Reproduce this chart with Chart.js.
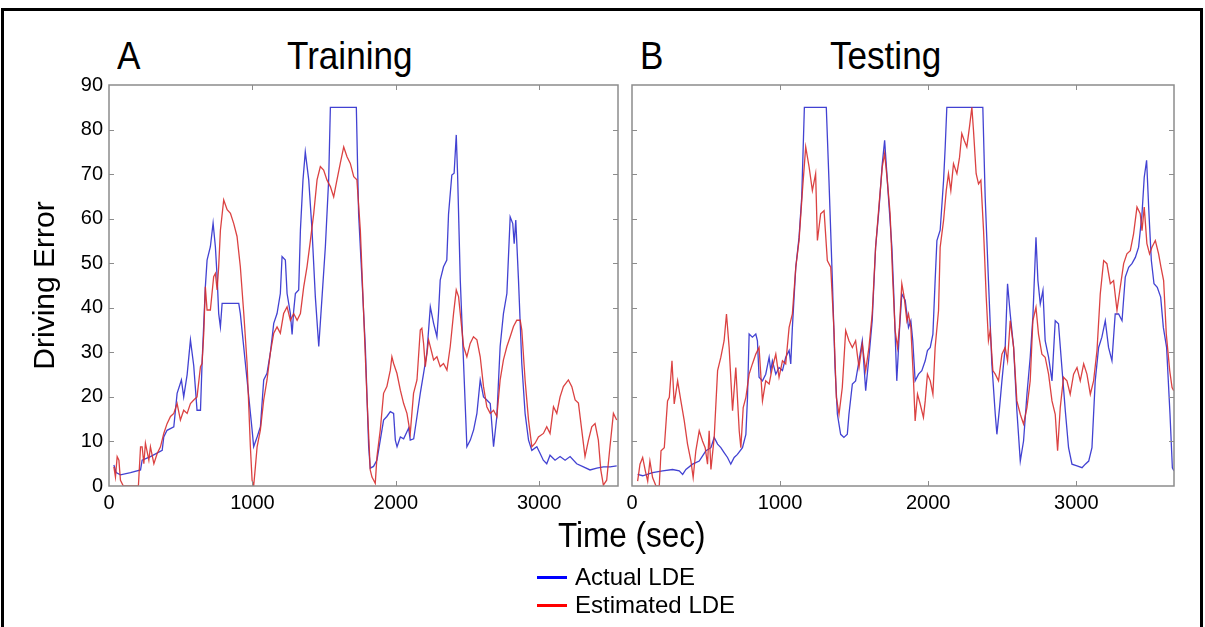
<!DOCTYPE html>
<html lang="en">

<head>
    <meta charset="utf-8">
    <title>Driving Error: Training / Testing</title>

    <!-- Chart.js -->
    <script src="https://cdn.jsdelivr.net/npm/chart.js@4.4.0/dist/chart.umd.min.js"></script>

    <style>
        body {
            margin: 0;
            background-color: #fff;
            font-family: "Liberation Sans", Arial, sans-serif;
        }

        #page {
            position: relative;
            width: 1205px;
            height: 627px;
            overflow: hidden;
            background: #fff;
        }

        #frame {
            position: absolute;
            left: 1px;
            top: 8px;
            width: 1196px;
            height: 700px;
            border: 3px solid #000;
            border-bottom: none;
        }

        .txt {
            position: absolute;
            color: #000;
            white-space: nowrap;
            line-height: 1;
        }

        .big {
            font-size: 39px;
            transform-origin: left top;
            transform: scaleX(0.9);
        }

        .legend-row {
            position: absolute;
            left: 537px;
            font-size: 24px;
            line-height: 1;
            display: flex;
            align-items: center;
        }

        .legend-row span.swatch {
            display: inline-block;
            width: 30px;
            height: 3px;
            margin-right: 8px;
        }
    </style>
</head>

<body>
    <div id="page">
        <div id="frame"></div>

        <div class="txt big" style="left:117px; top:36px;">A</div>
        <div class="txt big" style="left:287px; top:36px;">Training</div>
        <div class="txt big" style="left:640px; top:36px;">B</div>
        <div class="txt big" style="left:830px; top:36px;">Testing</div>

        <canvas id="chartA" width="625" height="520" style="position:absolute; left:0; top:0;"></canvas>
        <canvas id="chartB" width="585" height="520" style="position:absolute; left:620px; top:0;"></canvas>

        <div class="txt" style="left:558px; top:517px; font-size:35px; transform-origin:left top; transform:scaleX(0.9);">Time (sec)</div>

        <div class="legend-row" style="top:565px;"><span class="swatch" style="background:#0000ff;"></span>Actual LDE</div>
        <div class="legend-row" style="top:593px;"><span class="swatch" style="background:#ff0000;"></span>Estimated LDE</div>
    </div>

<script>
    // ---- tick values ----
    var yTicks = [0, 10, 20, 30, 40, 50, 60, 70, 80, 90];
    var xTicks = [0, 1000, 2000, 3000];

    // ---- A: Training ----
    var trainActualT = [34, 50, 80, 150, 220, 231, 289, 371, 382, 405, 452, 475, 505, 521, 545, 568, 591, 614, 638, 649,
        672, 684, 707, 726, 742, 754, 765, 777, 789, 905, 916, 963, 998, 1009, 1033, 1056, 1079, 1102, 1125, 1149,
        1172, 1195, 1207, 1230, 1242, 1265, 1277, 1288, 1300, 1323, 1335, 1353, 1369, 1393, 1416, 1439, 1463, 1486, 1509, 1532,
        1544, 1725, 1741, 1765, 1788, 1811, 1822, 1845, 1869, 1892, 1915, 1938, 1962, 1985, 1997, 2009, 2032, 2055, 2090, 2101,
        2125, 2148, 2171, 2194, 2217, 2241, 2264, 2287, 2298, 2310, 2333, 2356, 2368, 2391, 2407, 2422, 2431, 2450, 2473, 2496,
        2520, 2543, 2566, 2589, 2612, 2635, 2659, 2682, 2705, 2728, 2751, 2775, 2798, 2816, 2826, 2837, 2856, 2879, 2902, 2926,
        2949, 2984, 3007, 3029, 3053, 3076, 3111, 3146, 3181, 3216, 3262, 3309, 3355, 3402, 3448, 3495, 3541];
    var trainActualV = [4.7, 3.0, 2.5, 3.0, 3.6, 5.8, 6.6, 8.0, 11, 12.5, 13.3, 20.8, 23.8, 20, 25, 32.8, 27, 17, 17, 27.5,
        44.7, 50.7, 53.7, 59, 53.7, 47, 38.7, 35.7, 41, 41, 38.7, 23.8, 12.6, 8.8, 11, 13.3, 23.8, 25.3, 29.8, 36.5,
        38.7, 43.2, 51.5, 50.7, 43.2, 38.7, 34, 39.3, 43.2, 44, 57.4, 68.7, 75, 68.7, 57.4, 42.5, 31.3, 42.5, 53.7, 68.7,
        85, 85, 61, 46, 31, 8.8, 4, 4.4, 5.8, 10.3, 14.8, 15.6, 16.7, 16.3, 10.3, 8.8, 11, 10.6, 13, 10.3,
        10.6, 15.6, 20.8, 25.3, 29.8, 40.2, 36.5, 33.5, 38.7, 46.2, 49.2, 50.7, 61, 69.8, 70.2, 78.8, 70.2, 46.2, 27.5, 8.8,
        10.3, 12.6, 16.3, 23.8, 20, 19.3, 18.5, 8.8, 15.6, 31.3, 38.7, 43.2, 60.4, 58.9, 54.4, 59.7, 46.2, 27.5, 16.3, 10.3,
        8, 8.8, 7.3, 5.8, 5, 6.9, 5.8, 6.6, 5.8, 6.6, 5, 4.3, 3.6, 4, 4.3, 4.3, 4.5];

    var trainEstT = [34, 45, 57, 69, 80, 100, 205, 220, 231, 243, 254, 278, 289, 313, 336, 359, 382, 405, 429, 452,
        475, 498, 521, 545, 568, 591, 614, 638, 649, 661, 672, 684, 707, 730, 742, 754, 765, 777, 800, 824,
        847, 870, 893, 916, 940, 963, 986, 998, 1009, 1021, 1033, 1056, 1079, 1102, 1125, 1149, 1172, 1195, 1218, 1242,
        1265, 1288, 1312, 1335, 1358, 1381, 1405, 1428, 1451, 1474, 1497, 1520, 1544, 1567, 1590, 1613, 1637, 1660, 1683, 1707,
        1729, 1753, 1776, 1799, 1822, 1834, 1846, 1857, 1869, 1892, 1915, 1938, 1962, 1973, 1985, 2008, 2032, 2055, 2078, 2101,
        2124, 2148, 2171, 2182, 2194, 2206, 2229, 2241, 2264, 2287, 2310, 2333, 2357, 2380, 2403, 2422, 2438, 2450, 2473, 2496,
        2519, 2542, 2566, 2589, 2612, 2635, 2659, 2682, 2705, 2728, 2751, 2775, 2798, 2821, 2844, 2868, 2879, 2902, 2926, 2949,
        2972, 2995, 3030, 3053, 3076, 3100, 3123, 3146, 3169, 3204, 3228, 3251, 3274, 3297, 3320, 3344, 3367, 3390, 3413, 3430,
        3448, 3471, 3494, 3518, 3541];
    var trainEstV = [4.3, 2, 6.6, 5.8, 1.3, 0, 0, 8.8, 8.8, 5, 9.6, 5.8, 8.8, 5, 7.3, 8.8, 11.8, 14, 15.6, 16.3,
        18.5, 14.8, 17, 16.3, 18.5, 19.3, 20, 26.8, 27.5, 34.3, 44.7, 39.5, 39.5, 47, 47.7, 44, 49.2, 57.4, 64.2, 62,
        61.2, 58.9, 56, 49.2, 38.7, 27.5, 8.8, 1.3, 0, 4.3, 8.8, 12.6, 19.3, 23.8, 29.8, 34.3, 35.7, 34.3, 38.7, 40.2,
        37.2, 38.7, 37.2, 38.7, 44.7, 49.2, 55.2, 61.2, 68.7, 71.7, 70.9, 68.7, 67.2, 64.9, 68.7, 72.4, 76.1, 73.9, 72.4, 69.4,
        68.7, 57.4, 38.7, 20, 3.6, 2, 1.3, 0.6, 6.6, 12.6, 20.8, 22.3, 26, 29, 27.5, 25.3, 21.5, 18.5, 16.3, 11.8,
        20.8, 23.8, 35, 35.4, 32, 26.8, 32.8, 31.3, 28.3, 29, 26.8, 27.5, 26, 31.3, 38.7, 44, 42.5, 38.7, 31.3, 29,
        32, 33.5, 32.8, 29, 22.3, 17.8, 16.3, 17, 15.6, 23.8, 28.3, 31.3, 33.5, 35.8, 37.2, 37.2, 35, 23.8, 14.8, 8.8,
        9.6, 11, 11.8, 13.3, 11.8, 17.8, 16.3, 20, 22.3, 23.8, 22.3, 19.3, 18.6, 12.6, 6.6, 10.3, 13.3, 14, 10.3, 3.6,
        0.2, 1.3, 8.8, 16.3, 14.8];

    // ---- B: Testing ----
    var testActualT = [38, 72, 139, 207, 274, 319, 342, 364, 409, 454, 499, 533, 555, 578, 600, 622, 645, 667, 690, 712,
        746, 769, 780, 791, 813, 836, 847, 858, 881, 903, 926, 937, 948, 971, 993, 1016, 1038, 1061, 1072, 1083,
        1106, 1128, 1146, 1164, 1312, 1330, 1353, 1371, 1387, 1409, 1431, 1454, 1465, 1488, 1510, 1533, 1555, 1578, 1600, 1622,
        1645, 1667, 1690, 1706, 1724, 1755, 1766, 1777, 1788, 1806, 1822, 1845, 1867, 1883, 1896, 1912, 1935, 1957, 1980, 1995,
        2014, 2032, 2047, 2059, 2081, 2104, 2115, 2126, 2369, 2385, 2407, 2430, 2453, 2464, 2482, 2498, 2520, 2536, 2554, 2577,
        2599, 2622, 2644, 2667, 2689, 2707, 2728, 2741, 2757, 2775, 2790, 2813, 2836, 2858, 2880, 2903, 2926, 2948, 2971, 3005,
        3039, 3061, 3084, 3106, 3128, 3151, 3173, 3196, 3218, 3241, 3263, 3286, 3309, 3331, 3354, 3376, 3399, 3421, 3444, 3459,
        3475, 3491, 3507, 3525, 3547, 3570, 3588, 3610, 3633, 3649, 3660];
    var testActualV = [2.6, 2.3, 3, 3.4, 3.7, 3.4, 2.6, 3.7, 4.9, 5.6, 7.9, 8.6, 10.9, 9.4, 8.6, 7.5, 6.4, 4.9, 6.4, 7.1,
        8.6, 11.6, 19.9, 34.1, 33.4, 34.1, 32.6, 24.4, 23.6, 25.1, 28.9, 25.9, 28.1, 25.1, 26.6, 25.9, 28.9, 30.4, 27.4, 35.6,
        49.1, 55.8, 64.8, 85, 85, 68.6, 46.1, 26.6, 16.1, 11.6, 10.9, 11.6, 16.1, 22.9, 23.6, 28.1, 32.6, 21.4, 28.9, 37.1,
        53.6, 61.8, 72.3, 77.6, 68.6, 53.6, 44.6, 34.1, 23.6, 34.9, 43.1, 41.7, 35.6, 37.1, 32.6, 23.6, 25.1, 25.9, 28.1, 30.4,
        31.1, 34.1, 46.1, 55.1, 57.4, 68.6, 76.1, 85, 85, 64.8, 46.1, 27.4, 16.1, 11.6, 17.6, 23.6, 31.1, 45.4, 38.6, 31.1,
        16.9, 5.6, 10.1, 20.6, 28.9, 37.9, 55.8, 46.1, 40.9, 43.9, 32.6, 28.9, 23.6, 37.1, 36.4, 26.6, 16.9, 8.6, 4.9, 4.5,
        4.1, 4.9, 5.6, 8.6, 23.6, 31.1, 33.4, 37.1, 31.1, 28.1, 38.6, 38.6, 37.1, 46.9, 49.1, 49.9, 51.3, 53.6, 61.1, 69.3,
        73.1, 61.1, 50.6, 45.4, 44.6, 42.4, 35.6, 31.1, 16.1, 4.1, 3.4];

    var testEstT = [38, 54, 72, 90, 106, 121, 139, 162, 184, 196, 218, 240, 252, 270, 285, 308, 330, 353, 375, 398,
        413, 431, 454, 476, 494, 510, 521, 533, 555, 578, 600, 622, 638, 656, 679, 701, 724, 735, 751, 769,
        791, 813, 836, 858, 881, 903, 926, 948, 971, 993, 1016, 1038, 1061, 1083, 1106, 1128, 1151, 1173, 1196, 1218,
        1240, 1252, 1274, 1297, 1319, 1342, 1364, 1380, 1398, 1420, 1443, 1465, 1488, 1510, 1521, 1533, 1555, 1578, 1600, 1622,
        1645, 1667, 1690, 1706, 1724, 1743, 1761, 1777, 1793, 1806, 1822, 1838, 1856, 1867, 1883, 1901, 1912, 1928, 1946, 1968,
        1980, 1995, 2014, 2032, 2047, 2070, 2081, 2104, 2122, 2137, 2153, 2171, 2194, 2212, 2227, 2243, 2261, 2279, 2295, 2306,
        2324, 2340, 2356, 2374, 2392, 2407, 2419, 2437, 2453, 2475, 2498, 2520, 2536, 2554, 2577, 2599, 2622, 2644, 2667, 2689,
        2707, 2728, 2745, 2768, 2790, 2813, 2836, 2858, 2874, 2892, 2914, 2937, 2959, 2982, 3005, 3027, 3050, 3072, 3095, 3117,
        3140, 3162, 3185, 3207, 3230, 3252, 3275, 3297, 3320, 3342, 3365, 3387, 3410, 3432, 3444, 3459, 3477, 3495, 3511, 3534,
        3556, 3572, 3590, 3608, 3631, 3647, 3658];
    var testEstV = [1.1, 4.9, 6.4, 3.4, 1.1, 5.6, 1.9, 0, 0, 7.9, 8.6, 19.1, 19.9, 28.1, 18.4, 23.6, 19.1, 14.6, 9.4, 5.6,
        1.9, 7.9, 12.4, 10.1, 8.6, 4.9, 12.4, 3.7, 10.9, 25.9, 28.9, 32.6, 38.6, 31.1, 16.9, 26.6, 12.4, 8.6, 17.6, 19.9,
        25.1, 27.4, 29.6, 31.1, 19.1, 23.6, 22.9, 26.6, 29.6, 24.4, 28.1, 27.4, 35.6, 38.6, 49.1, 55.1, 66.3, 76.1, 71.6, 66.3,
        70.1, 55.1, 61.1, 61.8, 50.6, 49.1, 34.9, 19.9, 16.1, 22.1, 34.9, 32.6, 31.1, 32.6, 29.6, 26.6, 31.9, 25.9, 31.1, 38.6,
        53.6, 62.6, 71.6, 74.6, 68.6, 61.1, 46.1, 34.9, 31.1, 35.6, 45.4, 42.4, 37.1, 38.6, 35.6, 23.6, 14.6, 20.6, 18.4, 15.4,
        19.1, 25.1, 23.6, 20.6, 31.1, 39.4, 53.6, 59.6, 66.3, 70.1, 66.3, 72.3, 70.1, 73.8, 79.1, 77.6, 76.1, 80.6, 85, 79.8,
        70.1, 67.8, 68.6, 57.3, 42.4, 32.6, 34.9, 25.9, 25.1, 23.6, 29.6, 31.1, 28.1, 37.1, 31.1, 19.1, 16.1, 13.9, 17.6, 23.6,
        37.1, 40.1, 34.1, 29.6, 28.9, 25.1, 19.1, 16.1, 7.9, 17.6, 24.4, 23.6, 20.6, 25.1, 26.6, 23.6, 27.4, 25.1, 20.6, 23.6,
        30.4, 43.1, 50.6, 49.9, 45.4, 46.1, 39.4, 44.6, 49.9, 52.1, 52.8, 56.6, 62.6, 61.1, 57.3, 62.6, 54.4, 52.1, 53.6, 55.1,
        52.1, 49.1, 46.1, 34.1, 25.9, 22.1, 21.4];

    var blueLine = 'rgba(45, 45, 205, 0.9)';
    var redLine = 'rgba(215, 45, 45, 0.9)';
    var axisGray = '#8c8c8c';
    var fontFamily = '"Liberation Sans", Arial, sans-serif';

    let toPoints = (t, v) => t.map((x, i) => ({ x: x, y: v[i] }));

    // MATLAB-style box with inward tick marks
    let boxPlugin = {
        id: 'matlabBox',
        afterDatasetsDraw(chart) {
            let ctx = chart.ctx;
            let a = chart.chartArea;
            let xs = chart.scales.x;
            let ys = chart.scales.y;
            let len = 5;
            ctx.save();
            ctx.strokeStyle = axisGray;
            ctx.lineWidth = 1.5;
            ctx.strokeRect(a.left, a.top, a.right - a.left, a.bottom - a.top);
            ctx.lineWidth = 1;
            ctx.beginPath();
            yTicks.forEach(v => {
                let py = Math.round(ys.getPixelForValue(v)) + 0.5;
                if (py <= a.top + 1 || py >= a.bottom - 1) return;
                ctx.moveTo(a.left, py); ctx.lineTo(a.left + len, py);
                ctx.moveTo(a.right, py); ctx.lineTo(a.right - len, py);
            });
            xTicks.forEach(v => {
                let px = Math.round(xs.getPixelForValue(v)) + 0.5;
                if (px <= a.left + 1 || px >= a.right - 1) return;
                ctx.moveTo(px, a.bottom); ctx.lineTo(px, a.bottom - len);
                ctx.moveTo(px, a.top); ctx.lineTo(px, a.top + len);
            });
            ctx.stroke();
            ctx.restore();
        }
    };

    let makeChart = (id, actual, estimated, xMax, showY, padding) => {
        return new Chart(document.getElementById(id), {
            type: 'line',
            data: {
                datasets: [{
                    label: 'Estimated LDE',
                    data: estimated,
                    borderColor: redLine,
                    borderWidth: 1.3,
                    pointRadius: 0,
                    tension: 0
                }, {
                    label: 'Actual LDE',
                    data: actual,
                    borderColor: blueLine,
                    borderWidth: 1.3,
                    pointRadius: 0,
                    tension: 0
                }]
            },
            options: {
                responsive: false,
                animation: false,
                devicePixelRatio: 1,
                layout: { padding: padding },
                plugins: {
                    legend: { display: false },
                    tooltip: { enabled: false }
                },
                scales: {
                    x: {
                        type: 'linear',
                        min: 0,
                        max: xMax,
                        grid: { display: false, drawTicks: false },
                        border: { display: false },
                        afterBuildTicks: scale => {
                            scale.ticks = xTicks.map(v => ({ value: v }));
                        },
                        afterFit: scale => { scale.height = 34; },
                        ticks: {
                            padding: 5,
                            maxRotation: 0,
                            color: '#000',
                            font: { family: fontFamily, size: 20 },
                            callback: v => String(v)
                        }
                    },
                    y: {
                        display: showY,
                        min: 0,
                        max: 90,
                        grid: { display: false, drawTicks: false },
                        border: { display: false },
                        afterBuildTicks: scale => {
                            scale.ticks = yTicks.map(v => ({ value: v }));
                        },
                        afterFit: scale => { scale.width = showY ? 109 : 0; },
                        title: {
                            display: true,
                            text: 'Driving Error',
                            color: '#000',
                            padding: { top: 28, bottom: 0 },
                            font: { family: fontFamily, size: 30 }
                        },
                        ticks: {
                            padding: 6,
                            color: '#000',
                            font: { family: fontFamily, size: 20 },
                            callback: v => String(v)
                        }
                    }
                }
            },
            plugins: [boxPlugin]
        });
    };

    makeChart('chartA', toPoints(trainActualT, trainActualV), toPoints(trainEstT, trainEstV), 3550, true,
        { left: 0, top: 85, right: 7, bottom: 0 });
    makeChart('chartB', toPoints(testActualT, testActualV), toPoints(testEstT, testEstV), 3660, false,
        { left: 12, top: 85, right: 31, bottom: 0 });
</script>
</body>

</html>
